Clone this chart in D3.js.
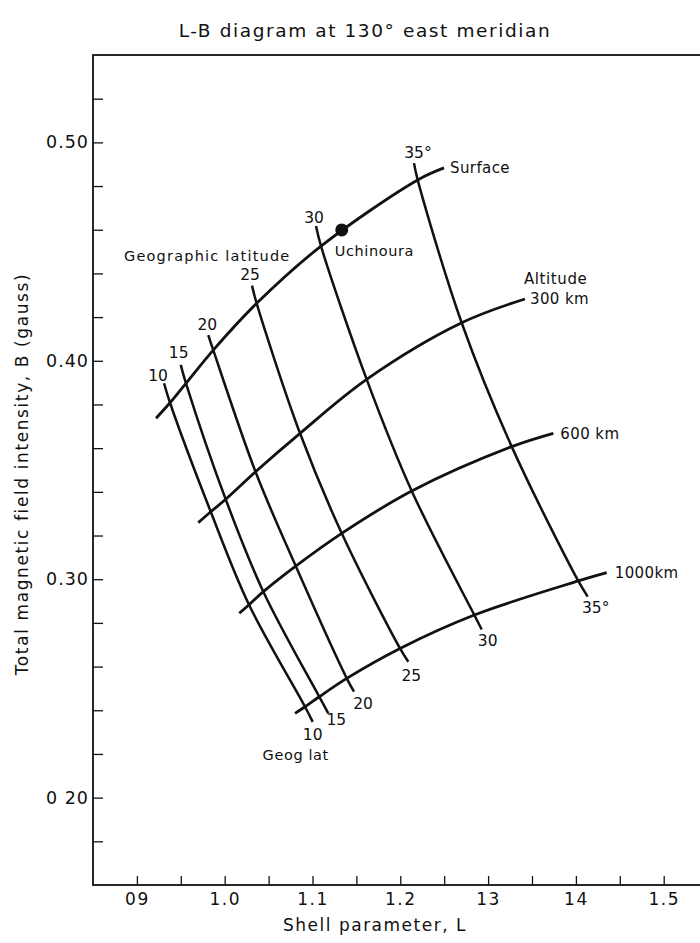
<!DOCTYPE html>
<html>
<head>
<meta charset="utf-8">
<script src="https://cdn.jsdelivr.net/npm/d3@7"></script>
<style>
  body { margin: 0; background: #fff; }
  svg text { font-family: "DejaVu Sans", "Liberation Sans", sans-serif; fill: #111; }
</style>
</head>
<body>
<svg id="chart" width="700" height="943"></svg>
<script>
// Geographic latitudes of the iso-latitude lines
const latitudes = [10, 15, 20, 25, 30, 35];
const latLabelsTop = ["10", "15", "20", "25", "30", "35°"];
const latLabelsBottom = ["10", "15", "20", "25", "30", "35°"];
const altitudeNames = ["Surface", "300 km", "600 km", "1000km"];

// [L, B] where each altitude curve crosses the latitude lines 10°…35°
const surface = [[0.9377, 0.3808], [0.9559, 0.3897], [0.9870, 0.4049], [1.0364, 0.4263], [1.1097, 0.4525], [1.2198, 0.4828]];
const alt300  = [[0.9841, 0.3309], [1.0011, 0.3366], [1.0351, 0.3492], [1.0858, 0.3668], [1.1617, 0.3915], [1.2699, 0.4174]];
const alt600  = [[1.0277, 0.2883], [1.0440, 0.2943], [1.0809, 0.3060], [1.1333, 0.3210], [1.2130, 0.3404], [1.3269, 0.3607]];
const alt1000 = [[1.0915, 0.2416], [1.1077, 0.2462], [1.1390, 0.2546], [1.1997, 0.2683], [1.2843, 0.2836], [1.4027, 0.2992]];

// Ends of the altitude curves (surface, 300, 600, 1000 km)
const altStart = [[0.9218, 0.3737], [0.9699, 0.3259], [1.0166, 0.2844], [1.0801, 0.2386]];
const altEnd   = [[1.2498, 0.4883], [1.3420, 0.4283], [1.3743, 0.3668], [1.4351, 0.3030]];

// Ends of the latitude lines (above the surface, below 1000 km)
const latTop    = [[0.9309, 0.3897], [0.9499, 0.3981], [0.9813, 0.4118], [1.0311, 0.4344], [1.1040, 0.4617], [1.2156, 0.4905]];
const latBottom = [[1.1002, 0.2347], [1.1180, 0.2386], [1.1473, 0.2485], [1.2091, 0.2622], [1.2927, 0.2770], [1.4134, 0.2920]];

// Uchinoura station
const uchinoura = [1.1333, 0.4599];

// Axis ticks
const xTickValues = d3.range(18, 31).map(k => k / 20);      // 0.90 … 1.50 every 0.05
const xMajor = [0.9, 1.0, 1.1, 1.2, 1.3, 1.4, 1.5];
const xTickLabels = ["09", "1.0", "1.1", "1.2", "13", "14", "1.5"];
const yTickValues = d3.range(9, 27).map(k => k / 50);       // 0.18 … 0.52 every 0.02
const yMajor = [0.2, 0.3, 0.4, 0.5];
const yTickLabels = ["0 20", "0.30", "0.40", "0.50"];

const svg = d3.select("#chart");
const x = d3.scaleLinear().domain([0.85, 1.55]).range([93, 707.6]);
const y = d3.scaleLinear().domain([0.16, 0.54]).range([885, 55]);

const key = v => Math.round(v * 100);
const xLabelOf = new Map(xMajor.map((v, i) => [key(v), xTickLabels[i]]));
const yLabelOf = new Map(yMajor.map((v, i) => [key(v), yTickLabels[i]]));

// Title
svg.append("text")
  .attr("x", 365).attr("y", 37)
  .attr("text-anchor", "middle")
  .attr("font-size", 18.5)
  .style("letter-spacing", "1.6px")
  .text("L-B diagram at 130° east meridian");

// Frame
svg.append("rect")
  .attr("x", x(0.85)).attr("y", y(0.54))
  .attr("width", x(1.55) - x(0.85)).attr("height", y(0.16) - y(0.54))
  .attr("fill", "none").attr("stroke", "#111").attr("stroke-width", 1.8);

// Bottom axis, ticks pointing inward
const xAxis = svg.append("g")
  .attr("transform", `translate(0,${y(0.16)})`)
  .call(d3.axisBottom(x).tickValues(xTickValues).tickSize(-9).tickPadding(8)
    .tickFormat(v => xLabelOf.get(key(v)) || ""));
xAxis.select(".domain").remove();
xAxis.selectAll("line").attr("stroke", "#111").attr("stroke-width", 1.3);
xAxis.selectAll("text").attr("font-size", 17).attr("fill", "#111")
  .style("font-family", "'DejaVu Sans', sans-serif").style("letter-spacing", "1.5px");

// Left axis, ticks pointing inward
const yAxis = svg.append("g")
  .attr("transform", `translate(${x(0.85)},0)`)
  .call(d3.axisLeft(y).tickValues(yTickValues).tickSize(-10).tickPadding(4)
    .tickFormat(v => yLabelOf.get(key(v)) || ""));
yAxis.select(".domain").remove();
yAxis.selectAll("line").attr("stroke", "#111").attr("stroke-width", 1.3);
yAxis.selectAll("text").attr("font-size", 17.5).attr("fill", "#111")
  .style("font-family", "'DejaVu Sans', sans-serif").style("letter-spacing", "1px");

// Axis titles
svg.append("text")
  .attr("x", 375).attr("y", 931)
  .attr("text-anchor", "middle")
  .attr("font-size", 17)
  .style("letter-spacing", "1.5px")
  .text("Shell parameter, L");

svg.append("text")
  .attr("transform", `translate(28,${474}) rotate(-90)`)
  .attr("text-anchor", "middle")
  .attr("font-size", 17)
  .style("letter-spacing", "1.6px")
  .text("Total magnetic field intensity, B (gauss)");

const line = d3.line()
  .x(d => x(d[0])).y(d => y(d[1]))
  .curve(d3.curveCatmullRom.alpha(0.5));

const plot = svg.append("g").attr("fill", "none").attr("stroke", "#111");

// Iso-altitude curves
const altRows = [surface, alt300, alt600, alt1000];
altRows.forEach((row, k) => {
  plot.append("path")
    .attr("d", line([altStart[k], ...row, altEnd[k]]))
    .attr("stroke-width", 2.8);
});

// Iso-latitude lines
latitudes.forEach((lat, i) => {
  const pts = [latTop[i], ...altRows.map(r => r[i]), latBottom[i]];
  plot.append("path")
    .attr("d", line(pts))
    .attr("stroke-width", 2.5);
});

// Uchinoura marker
svg.append("circle")
  .attr("cx", x(uchinoura[0])).attr("cy", y(uchinoura[1]))
  .attr("r", 6.5).attr("fill", "#111");
svg.append("text")
  .attr("x", x(uchinoura[0]) - 7).attr("y", y(uchinoura[1]) + 26)
  .attr("font-size", 14.5)
  .style("letter-spacing", "0.6px")
  .text("Uchinoura");

// Latitude labels at top and bottom of each line
const topOffsets = [[-6, -8], [-2, -12], [-1, -11], [-2, -11], [-2, -9], [4, -11]];
const botOffsets = [[0, 13], [8, 6], [9, 12], [3, 14], [6, 11], [8, 11]];
latitudes.forEach((lat, i) => {
  svg.append("text")
    .attr("x", x(latTop[i][0]) + topOffsets[i][0])
    .attr("y", y(latTop[i][1]) + topOffsets[i][1] + 5.5)
    .attr("text-anchor", "middle").attr("font-size", 15.5)
    .text(latLabelsTop[i]);
  svg.append("text")
    .attr("x", x(latBottom[i][0]) + botOffsets[i][0])
    .attr("y", y(latBottom[i][1]) + botOffsets[i][1] + 5.5)
    .attr("text-anchor", "middle").attr("font-size", 15.5)
    .text(latLabelsBottom[i]);
});

// Altitude labels at the right end of each curve
const altOffsets = [6, 5, 7, 8];
altitudeNames.forEach((name, k) => {
  svg.append("text")
    .attr("x", x(altEnd[k][0]) + altOffsets[k])
    .attr("y", y(altEnd[k][1]) + 5.5)
    .attr("font-size", 15)
    .style("letter-spacing", "0.4px")
    .text(name);
});
svg.append("text")
  .attr("x", x(altEnd[1][0]) - 1)
  .attr("y", y(altEnd[1][1]) - 20 + 5.5)
  .attr("font-size", 15)
  .style("letter-spacing", "0.6px")
  .text("Altitude");

// Annotations for the latitude lines
svg.append("text")
  .attr("x", x(0.8853)).attr("y", y(0.448) + 5.5)
  .attr("font-size", 14.5)
  .style("letter-spacing", "1.2px")
  .text("Geographic latitude");
svg.append("text")
  .attr("x", x(latBottom[0][0]) - 17).attr("y", y(latBottom[0][1]) + 33 + 5.5)
  .attr("text-anchor", "middle").attr("font-size", 14.5)
  .style("letter-spacing", "0.6px")
  .text("Geog lat");
</script>
</body>
</html>
